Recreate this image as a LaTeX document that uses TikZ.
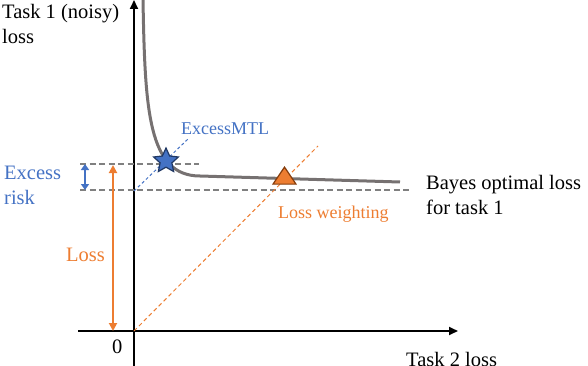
\documentclass[tikz,border=0pt]{standalone}
\usepackage{fontspec}
\setmainfont{Liberation Serif}
\usetikzlibrary{shapes.geometric,arrows.meta}
\definecolor{xblue}{HTML}{4472C4}
\definecolor{xdblue}{HTML}{203864}
\definecolor{xorange}{HTML}{ED7D31}
\definecolor{xbrown}{HTML}{843C0C}
\definecolor{xgray}{HTML}{767171}
\begin{document}
\begin{tikzpicture}[x=1pt,y=-1pt,
  axis/.style={line width=1.8pt,-{Triangle[length=9pt,width=8pt]}},
  guide/.style={draw=gray,line width=1.1pt,dash pattern=on 6pt off 3.5pt},
  lbl/.style={font=\fontsize{20.5}{25}\selectfont,anchor=base west,inner sep=0pt},
  small/.style={font=\fontsize{18}{21}\selectfont,anchor=base west,inner sep=0pt}]
\useasboundingbox (0,0) rectangle (588,366);
% axes
\coordinate (o) at (134,331);
\coordinate (ybot) at (134,366);
\coordinate (ytop) at (134,0);
\coordinate (xl) at (78,331);
\coordinate (xr) at (458,331);
\draw[axis] (ybot) -- (ytop);
\draw[axis] (xl) -- (xr);
% guide lines
\coordinate (g1a) at (80,164); \coordinate (g1b) at (199,164);
\coordinate (g2a) at (80,190); \coordinate (g2b) at (412,190);
\draw[guide] (g1a) -- (g1b);
\draw[guide] (g2a) -- (g2b);
% dashed rays
\coordinate (b0) at (134,191); \coordinate (b1) at (188,139);
\draw[xblue,line width=1pt,dash pattern=on 3pt off 2.5pt] (b0) -- (b1);
\coordinate (r1) at (318,146);
\draw[xorange,line width=1pt,dash pattern=on 4pt off 3pt] (o) -- (r1);
% curve
\coordinate (c0) at (143,0);
\coordinate (c1) at (200,176);
\coordinate (c2) at (400,182);
\draw[xgray,line width=3pt] (c0) .. controls (145,110) and (148,176) .. (c1) -- (c2);
% markers
\node[star,star points=5,star point ratio=2.1,minimum size=26pt,inner sep=0pt,fill=xblue,draw=xdblue,line width=1.2pt] (st) at (166,161) {};
\node[isosceles triangle,shape border rotate=90,isosceles triangle apex angle=68,isosceles triangle stretches,minimum width=23pt,minimum height=17pt,inner sep=0pt,fill=xorange,draw=xbrown,line width=1.2pt] (tr) at (284.5,178) {};
% arrows
\coordinate (e0) at (85,164); \coordinate (e1) at (85,190);
\draw[xblue,line width=1.8pt,{Triangle[length=6pt,width=8pt]}-{Triangle[length=6pt,width=8pt]}] (e0) -- (e1);
\coordinate (l0) at (113,165); \coordinate (l1) at (113,331);
\draw[xorange,line width=1.8pt,{Triangle[length=8pt,width=8pt]}-{Triangle[length=8pt,width=8pt]}] (l0) -- (l1);
% labels
\node[lbl] (t1a) at (2,19) {Task 1 (noisy)};
\node[lbl] (t1b) at (2,44) {loss};
\node[lbl,text=xblue] (exa) at (4,179) {Excess};
\node[lbl,text=xblue] (exb) at (4,204) {risk};
\node[lbl,text=xorange] (ls) at (66,261) {Loss};
\node[lbl] (zero) at (112,353) {0};
\node[lbl] (t2) at (406,366) {Task 2 loss};
\node[lbl] (baya) at (426,189) {Bayes optimal loss};
\node[lbl] (bayb) at (426,214) {for task 1};
\node[small,text=xblue] (em) at (181,135) {ExcessMTL};
\node[small,text=xorange] (lw) at (278,218) {Loss weighting};
\end{tikzpicture}
\end{document}
